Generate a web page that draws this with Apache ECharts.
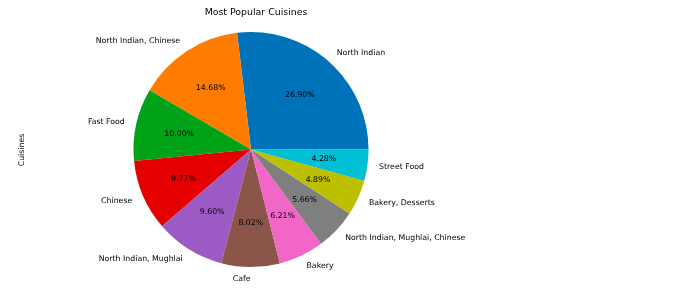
<!DOCTYPE html>
<html>
<head>
<meta charset="utf-8">
<script src="https://cdn.jsdelivr.net/npm/echarts@6/dist/echarts.min.js"></script>
<style>
html,body{margin:0;padding:0;background:#fff;}
#c{width:700px;height:295px;}
</style>
</head>
<body>
<div id="c"></div>
<script>
var categories = ["North Indian", "North Indian, Chinese", "Fast Food", "Chinese", "North Indian, Mughlai", "Cafe", "Bakery", "North Indian, Mughlai, Chinese", "Bakery, Desserts", "Street Food"];
var shares = [26.90, 14.68, 10.00, 9.77, 9.60, 8.02, 6.21, 5.66, 4.89, 4.28];
var colors = ["#0072ba", "#ff7c00", "#00a318", "#e50000", "#9c5bc4", "#8c554a", "#f266c8", "#7f7f7f", "#bcc000", "#00bed4"];
var titleText = "Most Popular Cuisines";
var yLabel = "Cuisines";

var R = 117.5;
var FONT = "DejaVu Sans";
var chart = echarts.init(document.getElementById('c'), null, {renderer: 'canvas'});
var mainData = categories.map(function (c, i) {
  return {name: c, value: shares[i], itemStyle: {color: colors[i]}};
});
var pctData = categories.map(function (c, i) {
  return {name: c, value: shares[i]};
});
chart.setOption({
  animation: false,
  title: {
    text: titleText, left: 251, top: 3, textAlign: 'center',
    textStyle: {fontFamily: FONT, fontSize: 9.4, fontWeight: 'normal', color: '#000'}
  },
  graphic: [{
    type: 'text', x: 22, y: 150, rotation: Math.PI / 2,
    style: {text: yLabel, font: '7.8px "DejaVu Sans"', fill: '#000', textAlign: 'center', textVerticalAlign: 'middle'}
  }],
  series: [{
    type: 'pie',
    center: [251, 149.5],
    radius: [0, R],
    startAngle: 0,
    clockwise: false,
    avoidLabelOverlap: false,
    minShowLabelAngle: 0,
    silent: true,
    data: mainData,
    itemStyle: {borderWidth: 0},
    label: {
      show: true, position: 'outside', distanceToLabelLine: 0,
      fontFamily: FONT, fontSize: 7.8, color: '#000', formatter: '{b}'
    },
    labelLine: {show: false, length: R * 0.1, length2: 0}
  }, {
    type: 'pie',
    center: [251, 149.5],
    radius: [R * 0.2, R],
    startAngle: 0,
    clockwise: false,
    avoidLabelOverlap: false,
    minShowLabelAngle: 0,
    silent: true,
    data: pctData,
    itemStyle: {color: 'rgba(0,0,0,0)', borderWidth: 0},
    label: {
      show: true, position: 'inside',
      fontFamily: FONT, fontSize: 7.8, color: '#000',
      formatter: function (p) { return p.value.toFixed(2) + '%'; }
    },
    labelLine: {show: false}
  }]
});
</script>
</body>
</html>
